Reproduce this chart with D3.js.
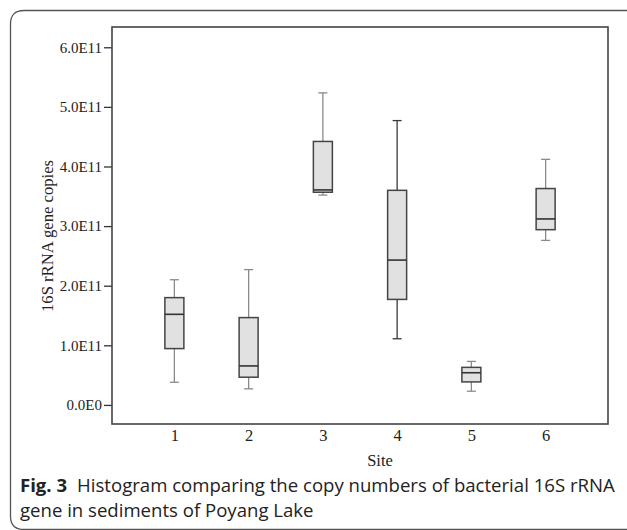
<!DOCTYPE html>
<html><head><meta charset="utf-8">
<script src="https://cdn.jsdelivr.net/npm/d3@7"></script>
<style>
html,body{margin:0;padding:0;background:#fff;}
svg{display:block;}
</style>
</head><body>
<svg id="chart" width="627" height="530"></svg>
<script>
// ---- data ----
const sites = ["1","2","3","4","5","6"];
const whiskerLow  = [0.38e11, 0.27e11, 3.52e11, 1.11e11, 0.23e11, 2.76e11];
const q1          = [0.945e11, 0.465e11, 3.568e11, 1.77e11, 0.386e11, 2.94e11];
const median      = [1.52e11, 0.654e11, 3.607e11, 2.43e11, 0.54e11, 3.12e11];
const q3          = [1.80e11, 1.465e11, 4.42e11, 3.60e11, 0.63e11, 3.63e11];
const whiskerHigh = [2.10e11, 2.27e11, 5.235e11, 4.77e11, 0.73e11, 4.12e11];
const yTickValues = [0, 1e11, 2e11, 3e11, 4e11, 5e11, 6e11];
const yTickLabels = ["0.0E0","1.0E11","2.0E11","3.0E11","4.0E11","5.0E11","6.0E11"];
const xTitle = "Site";
const yTitle = "16S rRNA gene copies";
const captionBold = "Fig. 3";
const captionLine1 = "Histogram comparing the copy numbers of bacterial 16S rRNA";
const captionLine2 = "gene in sediments of Poyang Lake";

// ---- layout ----
const svg = d3.select("#chart");
const L = 112, R = 608, T = 27, B = 424;
const serif = "'Liberation Serif','Times New Roman',serif";

const x = d3.scalePoint().domain(sites).range([L, R]).padding(0.84);
const y = d3.scaleLinear().domain([-0.32e11, 6.34e11]).range([B, T]);

// outer frame (rounded on the left side, cut off at right/bottom)
svg.append("path")
  .attr("d", "M627,10.5 H24 Q10.5,10.5 10.5,24 V516 Q10.5,529.5 24,529.5 H640")
  .attr("fill", "none").attr("stroke", "#555").attr("stroke-width", 1.3);

// y axis
const yAxis = svg.append("g").attr("transform", `translate(${L},0)`)
  .call(d3.axisLeft(y).tickValues(yTickValues)
    .tickFormat((d, i) => yTickLabels[i]).tickSize(8).tickPadding(2));
yAxis.select(".domain").remove();
yAxis.selectAll(".tick line").attr("stroke", "#333").attr("stroke-width", 1.3);
yAxis.selectAll(".tick text").attr("font-family", serif).attr("font-size", 15)
  .attr("fill", "#222");

// x axis
const xAxis = svg.append("g").attr("transform", `translate(0,${B})`)
  .call(d3.axisBottom(x).tickSize(0).tickPadding(5));
xAxis.select(".domain").remove();
xAxis.selectAll(".tick text").attr("font-family", serif).attr("font-size", 16.5)
  .attr("fill", "#222");

// plot frame
svg.append("rect").attr("x", L).attr("y", T).attr("width", R - L).attr("height", B - T)
  .attr("fill", "none").attr("stroke", "#444").attr("stroke-width", 1.6);

// boxes
const boxW = 19, capW = 9;
const whiskerColor = ["#8a8a8a","#8a8a8a","#8a8a8a","#3a3a3a","#8a8a8a","#8a8a8a"];
const g = svg.append("g");
sites.forEach((s, i) => {
  const cx = x(s);
  const wc = whiskerColor[i];
  g.append("line").attr("x1", cx).attr("x2", cx).attr("y1", y(whiskerHigh[i])).attr("y2", y(q3[i]))
    .attr("stroke", wc).attr("stroke-width", 1.3);
  g.append("line").attr("x1", cx - capW/2).attr("x2", cx + capW/2)
    .attr("y1", y(whiskerHigh[i])).attr("y2", y(whiskerHigh[i]))
    .attr("stroke", wc).attr("stroke-width", 1.3);
  g.append("line").attr("x1", cx).attr("x2", cx).attr("y1", y(q1[i])).attr("y2", y(whiskerLow[i]))
    .attr("stroke", wc).attr("stroke-width", 1.3);
  g.append("line").attr("x1", cx - capW/2).attr("x2", cx + capW/2)
    .attr("y1", y(whiskerLow[i])).attr("y2", y(whiskerLow[i]))
    .attr("stroke", wc).attr("stroke-width", 1.3);
  g.append("rect").attr("x", cx - boxW/2).attr("y", y(q3[i]))
    .attr("width", boxW).attr("height", y(q1[i]) - y(q3[i]))
    .attr("fill", "#e1e1e1").attr("stroke", "#444").attr("stroke-width", 1.5);
  g.append("line").attr("x1", cx - boxW/2).attr("x2", cx + boxW/2)
    .attr("y1", y(median[i])).attr("y2", y(median[i]))
    .attr("stroke", "#333").attr("stroke-width", 1.6);
});

// axis titles
svg.append("text").attr("x", 380).attr("y", 466).attr("text-anchor", "middle")
  .attr("font-family", serif).attr("font-size", 16.5).attr("fill", "#222").text(xTitle);
svg.append("text").attr("transform", "translate(53,236) rotate(-90)")
  .attr("text-anchor", "middle").attr("font-family", serif).attr("font-size", 17)
  .attr("fill", "#222").attr("textLength", 152).attr("lengthAdjust", "spacingAndGlyphs")
  .text(yTitle);

// caption
const capFont = "'Open Sans','Noto Sans',sans-serif";
const cap1 = svg.append("text").attr("x", 20).attr("y", 492)
  .attr("font-family", capFont).attr("font-size", 16).attr("fill", "#222");
cap1.append("tspan").attr("font-weight", "bold").text(captionBold);
cap1.append("tspan").attr("dx", 10).text(captionLine1);
const cap2 = svg.append("text").attr("x", 20).attr("y", 517)
  .attr("font-family", capFont).attr("font-size", 16).attr("fill", "#222").text(captionLine2);
// fit caption width to reference line width
const target = 595;
let fs = 16;
for (let k = 0; k < 4; k++) {
  const w = cap1.node().getBBox().width;
  fs = Math.max(12, Math.min(19, fs * target / w));
  cap1.attr("font-size", fs);
}
cap2.attr("font-size", fs);
</script>
</body></html>
